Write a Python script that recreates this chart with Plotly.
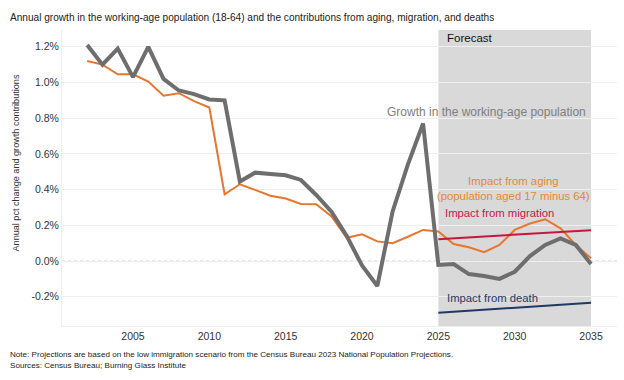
import plotly.graph_objects as go

years = list(range(2002, 2036))
growth = [1.21, 1.10, 1.19, 1.03, 1.20, 1.02, 0.955, 0.935, 0.905, 0.90,
          0.445, 0.495, 0.487, 0.48, 0.454, 0.37, 0.276, 0.14, -0.025, -0.14,
          0.276, 0.54, 0.77, -0.022, -0.017, -0.073, -0.084, -0.10, -0.06,
          0.028, 0.09, 0.127, 0.09, -0.017]
aging = [1.12, 1.10, 1.046, 1.046, 1.005, 0.926, 0.94, 0.896, 0.86, 0.374,
         0.43, 0.40, 0.366, 0.35, 0.32, 0.318, 0.25, 0.13, 0.15, 0.11,
         0.10, 0.136, 0.174, 0.165, 0.095, 0.077, 0.05, 0.09, 0.174, 0.21,
         0.234, 0.183, 0.09, 0.015]
f_years = list(range(2025, 2036))
migration = [0.122, 0.127, 0.133, 0.138, 0.143, 0.148, 0.153, 0.158, 0.163, 0.168, 0.173]
death = [-0.290, -0.284, -0.278, -0.273, -0.267, -0.262, -0.256, -0.250, -0.245, -0.240, -0.234]
y_ticks = [-0.2, 0.0, 0.2, 0.4, 0.6, 0.8, 1.0, 1.2]
x_ticks = [2005, 2010, 2015, 2020, 2025, 2030, 2035]

FONT = "Liberation Sans, Arial, sans-serif"

fig = go.Figure()
fig.add_shape(type="rect", xref="x", yref="paper", x0=2025, x1=2035, y0=0, y1=1,
              fillcolor="#d9d9d9", line_width=0, layer="below")
fig.add_shape(type="line", xref="paper", yref="y", x0=0, x1=1, y0=0, y1=0,
              line=dict(color="#cfcfcf", width=1, dash="dot"), layer="below")
fig.add_trace(go.Scatter(x=years, y=aging, mode="lines", line=dict(color="#e8762d", width=2), hoverinfo="skip"))
fig.add_trace(go.Scatter(x=f_years, y=migration, mode="lines", line=dict(color="#c8173f", width=2), hoverinfo="skip"))
fig.add_trace(go.Scatter(x=f_years, y=death, mode="lines", line=dict(color="#1f3864", width=2), hoverinfo="skip"))
fig.add_trace(go.Scatter(x=years, y=growth, mode="lines", line=dict(color="#6e6e6e", width=4), hoverinfo="skip"))

ann = [
    dict(x=2025.43, y=1.249, text="Forecast", color="#111111", xanchor="left", size=11.5),
    dict(x=2028.12, y=0.835, text="Growth in the working-age population", color="#808080", xanchor="center", size=12),
    dict(x=2029.9, y=0.406, text="Impact from aging<br>(population aged 17 minus 64)", color="#e8872f", xanchor="center", size=11.3),
    dict(x=2025.3, y=0.269, text="Impact from migration", color="#c8174b", xanchor="left", size=11.3),
    dict(x=2025.43, y=-0.207, text="Impact from death", color="#1f3864", xanchor="left", size=11.3),
]
for a in ann:
    fig.add_annotation(x=a["x"], y=a["y"], xref="x", yref="y", text=a["text"], showarrow=False,
                       xanchor=a["xanchor"], yanchor="middle",
                       font=dict(family=FONT, size=a["size"], color=a["color"]))

fig.add_annotation(xref="paper", yref="paper", x=-54/555, y=1 + 13/296, xanchor="left", yanchor="middle",
                   text="Annual growth in the working-age population (18-64) and the contributions from aging, migration, and deaths",
                   showarrow=False, font=dict(family=FONT, size=10.1, color="#222222"))
fig.add_annotation(xref="paper", yref="paper", x=-54/555, y=-22/296, xanchor="left", yanchor="top", align="left",
                   text="Note: Projections are based on the low immigration scenario from the Census Bureau 2023 National Population Projections.<br>Sources: Census Bureau; Burning Glass Institute",
                   showarrow=False, font=dict(family=FONT, size=8.1, color="#222222"))
fig.add_annotation(xref="paper", yref="paper", x=-46/555, y=0.549, xanchor="center", yanchor="middle", textangle=-90,
                   text="Annual pct change and growth contributions",
                   showarrow=False, font=dict(family=FONT, size=9.1, color="#333333"))

fig.update_layout(
    width=624, height=380, margin=dict(l=62, r=7, t=30, b=54),
    paper_bgcolor="white", plot_bgcolor="white", showlegend=False,
    font=dict(family=FONT, size=10, color="#333333"),
    xaxis=dict(range=[2000.35, 2036.7], tickvals=x_ticks, showgrid=False, zeroline=False,
               showline=True, linecolor="#eeeeee", ticks="", tickfont=dict(size=10.5)),
    yaxis=dict(range=[-0.364, 1.294], tickvals=y_ticks,
               ticktext=[f"{v:.1f}%" for v in y_ticks], showgrid=True, gridcolor="#efefef",
               zeroline=False, showline=True, linecolor="#eeeeee", ticks="",
               tickfont=dict(size=10.5)),
)
fig.write_html("out.html", config={"displayModeBar": False})
with open("out.html", encoding="utf-8") as f:
    html = f.read()
html = html.replace("<body>", '<body style="margin:0;padding:0">', 1)
with open("out.html", "w", encoding="utf-8") as f:
    f.write(html)
